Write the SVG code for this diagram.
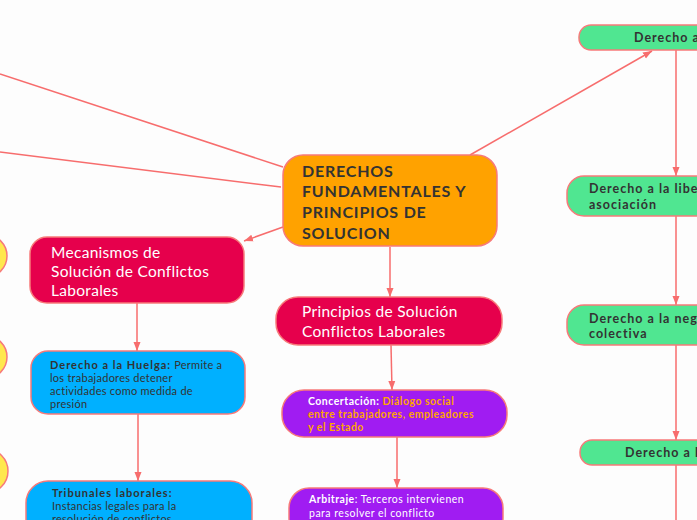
<svg xmlns="http://www.w3.org/2000/svg" width="697" height="520" viewBox="0 0 697 520">
<defs>
<marker id="ah" markerWidth="10" markerHeight="10" refX="9" refY="5" orient="auto" markerUnits="userSpaceOnUse">
<path d="M0,1.5 L9,5 L0,8.5 Z" fill="#f76d6d"/>
</marker>
<style>
.ln{stroke:#f76d6d;stroke-width:1.5;fill:none}
.nd{stroke:#f77a7a;stroke-width:1.5}
.t{font-family:Lato,"Noto Sans","DejaVu Sans",sans-serif}
.b{font-weight:bold}
.dk{fill:#333333}
.wh{fill:#ffffff}
.or{fill:#ffa500}
.big{font-size:15.5px;letter-spacing:0.3px}
.sm{font-size:11px;letter-spacing:0.25px}
.xs{font-size:10.5px;letter-spacing:0.5px}
.bs{letter-spacing:1px}
.rt{font-size:12.5px;font-weight:bold;letter-spacing:1px}
</style>
</defs>
<rect width="697" height="520" fill="#fdfdfd"/>
<g id="connectors">
<line class="ln" x1="283" y1="167" x2="0" y2="74"/>
<line class="ln" x1="281" y1="187" x2="0" y2="152"/>
<line class="ln" x1="283" y1="227" x2="244" y2="241" marker-end="url(#ah)"/>
<line class="ln" x1="390" y1="247" x2="390" y2="297" marker-end="url(#ah)"/>
<line class="ln" x1="470" y1="155" x2="652" y2="51" marker-end="url(#ah)"/>
<line class="ln" x1="137" y1="303" x2="137" y2="351" marker-end="url(#ah)"/>
<line class="ln" x1="138" y1="414" x2="138" y2="481" marker-end="url(#ah)"/>
<line class="ln" x1="391" y1="345" x2="392" y2="390" marker-end="url(#ah)"/>
<line class="ln" x1="397" y1="437" x2="397" y2="488" marker-end="url(#ah)"/>
<line class="ln" x1="676" y1="50" x2="676" y2="176" marker-end="url(#ah)"/>
<line class="ln" x1="676" y1="216" x2="676" y2="305" marker-end="url(#ah)"/>
<line class="ln" x1="676" y1="345" x2="676" y2="440" marker-end="url(#ah)"/>
<line class="ln" x1="676" y1="465" x2="676" y2="520"/>
</g>
<g id="left-circles">
<circle class="nd" cx="-14" cy="256" r="21" fill="#ffe84d"/>
<circle class="nd" cx="-14" cy="357" r="21" fill="#ffe84d"/>
<circle class="nd" cx="-14" cy="471" r="22" fill="#ffe84d"/>
</g>
<g id="central">
<rect class="nd" x="283" y="155" width="214" height="91" rx="20" fill="#ffa200"/>
<text class="t b dk" font-size="16" letter-spacing="0.8"><tspan x="302" y="177">DERECHOS</tspan><tspan x="302" y="197">FUNDAMENTALES Y</tspan><tspan x="302" y="218">PRINCIPIOS DE</tspan><tspan x="302" y="239">SOLUCION</tspan></text>
</g>
<g id="mecanismos">
<rect class="nd" x="30" y="237" width="214" height="66" rx="17" fill="#e6004c"/>
<text class="t wh big"><tspan x="51" y="258">Mecanismos de</tspan><tspan x="51" y="277">Solución de Conflictos</tspan><tspan x="51" y="296">Laborales</tspan></text>
</g>
<g id="huelga">
<rect class="nd" x="31" y="351" width="214" height="63" rx="17" fill="#00b0ff"/>
<text class="t dk sm"><tspan x="50" y="369"><tspan class="b bs">Derecho a la Huelga:</tspan> Permite a</tspan><tspan x="50" y="382">los trabajadores detener</tspan><tspan x="50" y="395">actividades como medida de</tspan><tspan x="50" y="408">presión</tspan></text>
</g>
<g id="tribunales">
<rect class="nd" x="26" y="481" width="226" height="66" rx="22" fill="#00b0ff"/>
<text class="t dk sm"><tspan class="b bs" x="52" y="497">Tribunales laborales:</tspan><tspan x="52" y="510">Instancias legales para la</tspan><tspan x="52" y="523">resolución de conflictos</tspan></text>
</g>
<g id="principios">
<rect class="nd" x="276" y="297" width="226" height="48" rx="22" fill="#e6004c"/>
<text class="t wh big"><tspan x="302" y="317">Principios de Solución</tspan><tspan x="302" y="337">Conflictos Laborales</tspan></text>
</g>
<g id="concertacion">
<rect class="nd" x="282" y="390" width="225" height="47" rx="22" fill="#a01cf2"/>
<text class="t b xs"><tspan x="308" y="405"><tspan class="wh">Concertación: </tspan><tspan class="or">Diálogo social</tspan></tspan><tspan class="or" x="308" y="418">entre trabajadores, empleadores</tspan><tspan class="or" x="308" y="431">y el Estado</tspan></text>
</g>
<g id="arbitraje">
<rect class="nd" x="289" y="488" width="214" height="50" rx="20" fill="#a01cf2"/>
<text class="t wh xs"><tspan x="309" y="503"><tspan class="b">Arbitraje</tspan>: Terceros intervienen</tspan><tspan x="309" y="517">para resolver el conflicto</tspan></text>
</g>
<g id="derecho-a">
<rect class="nd" x="579" y="25" width="140" height="25" rx="12" fill="#50e691"/>
<text class="t dk rt" x="634" y="42">Derecho a</text>
</g>
<g id="libertad">
<rect class="nd" x="567" y="176" width="150" height="40" rx="17" fill="#50e691"/>
<text class="t dk rt"><tspan x="589" y="193">Derecho a la libe</tspan><tspan x="589" y="209">asociación</tspan></text>
</g>
<g id="negociacion">
<rect class="nd" x="567" y="305" width="150" height="40" rx="17" fill="#50e691"/>
<text class="t dk rt"><tspan x="589" y="323">Derecho a la neg</tspan><tspan x="589" y="338">colectiva</tspan></text>
</g>
<g id="derecho-a-l">
<rect class="nd" x="580" y="440" width="140" height="25" rx="12" fill="#50e691"/>
<text class="t dk rt" x="625" y="457">Derecho a l</text>
</g>
</svg>
